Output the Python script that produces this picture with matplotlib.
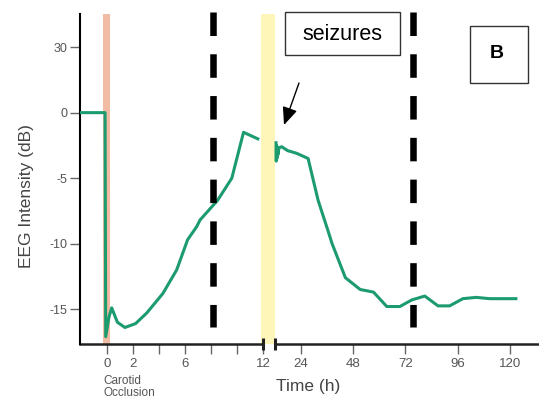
import numpy as np
import matplotlib.pyplot as plt
from matplotlib.patches import Rectangle

plt.rcParams['font.family'] = ['Liberation Sans', 'DejaVu Sans']

# --- data ---
# before the seizure window (hours, dB)
pre_t = [-2.08, -0.15, -0.1, 0.15, 0.36, 0.8, 1.38, 2.2, 3.05, 4.3, 5.36,
         6.2, 6.9, 7.15, 8.5, 9.6, 10.5, 11.6]
pre_db = [0, 0, -17.1, -15.6, -14.9, -16.0, -16.4, -16.1, -15.3, -13.8, -12.0,
          -9.7, -8.7, -8.2, -6.7, -5.0, -1.5, -2.0]
# after the seizure window
post_t = [12.7, 12.8, 12.9, 13.1, 13.3, 13.6, 14.0, 15.3, 18.0, 22.1, 27.4,
          32.0, 36.5, 38.4, 44.5, 51.3, 57.4, 63.5, 69.5, 74.9, 80.9, 87.0,
          92.3, 98.4, 104.5, 110.6, 122.7]
post_db = [-2.3, -3.7, -2.5, -3.5, -2.6, -3.2, -2.7, -2.6, -2.9, -3.1, -3.5,
           -6.7, -9.0, -10.0, -12.6, -13.5, -13.7, -14.8, -14.8, -14.3, -14.0,
           -14.75, -14.75, -14.2, -14.1, -14.2, -14.2]

occlusion_span = (-0.31, 0.23)
seizure_span = (11.85, 12.23)
dashed_t = [8.15, 75.5]

x_ticks = [0, 2, 4, 6, 8, 10, 12, 24, 48, 72, 96, 120]
x_labels = ['0', '2', '', '6', '', '', '12', '24', '48', '72', '96', '120']
y_ticks = [5, 0, -5, -10, -15]
y_labels = ['30', '0', '-5', '-10', '-15']


# broken time axis: 0-12 h stretched, 12-120 h compressed
def fwd(t):
    t = np.asarray(t, dtype=float)
    return np.where(t <= 12, t * 13.0, 167.5 + (t - 12) * 2.18)


def inv(u):
    u = np.asarray(u, dtype=float)
    return np.where(u <= 156, u / 13.0,
                    np.where(u >= 167.5, 12 + (u - 167.5) / 2.18, 12.0))


W, H = 539, 401
fig = plt.figure(figsize=(W / 100, H / 100), dpi=100)
ax = fig.add_axes([80 / W, 57 / H, 1 - 80 / W, 330 / H])
ax.set_xscale('function', functions=(fwd, inv))
xmin, xmax = -2.077, 133.3
ax.set_xlim(xmin, xmax)
ax.set_ylim(-17.66, 7.53)

green = '#1b9b6e'
ax.axvspan(*occlusion_span, color='#f2bba3', lw=0, zorder=0)
ax.axvspan(*seizure_span, color='#fdf6b8', lw=0, zorder=0)
ax.plot(pre_t, pre_db, color=green, lw=2.2, zorder=3)
ax.plot(post_t, post_db, color=green, lw=2.2, zorder=3)

trans = ax.get_xaxis_transform()
for xt in dashed_t:
    ax.plot([xt, xt], [1.006, 0.0515], transform=trans, clip_on=False,
            color='black', lw=4.7, dashes=(3.6, 2.8), dash_capstyle='butt', zorder=4)

# spines / broken x axis
for s in ['top', 'right', 'bottom']:
    ax.spines[s].set_visible(False)
ax.spines['left'].set_linewidth(1.5)
ax.plot([xmin, 12], [0, 0], transform=trans, clip_on=False, color='#222', lw=1.8)
ax.plot([12.0001, xmax], [0, 0], transform=trans, clip_on=False, color='#222', lw=1.8)
ax.plot([12, 12.0001], [0, 0], transform=trans, clip_on=False, ls='none',
        marker='|', ms=9, mew=2.2, color='#222')

ax.set_xticks(x_ticks)
ax.set_xticklabels(x_labels)
ax.set_yticks(y_ticks)
ax.set_yticklabels(y_labels)
ax.tick_params(axis='x', direction='out', length=7, width=1, color='#666',
               labelsize=9.5, labelcolor='#555', pad=3)
ax.tick_params(axis='y', direction='out', length=7, width=1, color='#666',
               labelsize=9, labelcolor='#555', pad=2)

fig.text(26 / W, 1 - 196 / H, 'EEG Intensity (dB)', rotation=90, ha='center',
         va='center', fontsize=12.5, color='#444')
fig.text(308 / W, 1 - 387 / H, 'Time (h)', ha='center', va='center',
         fontsize=12.5, color='#444')
fig.text(103 / W, 1 - 375 / H, 'Carotid\nOcclusion', ha='left', va='top',
         fontsize=8.5, color='#555', linespacing=0.95)

# annotation boxes
fig.add_artist(Rectangle((285 / W, 1 - 55 / H), 115 / W, 43 / H,
                         transform=fig.transFigure, fill=False, lw=1.0, ec='#333'))
fig.text(342.5 / W, 1 - 34 / H, 'seizures', ha='center', va='center', fontsize=15.5)
fig.add_artist(Rectangle((470 / W, 1 - 83 / H), 58 / W, 57 / H,
                         transform=fig.transFigure, fill=False, lw=1.0, ec='#333'))
fig.text(497 / W, 1 - 54 / H, 'B', ha='center', va='center', fontsize=14,
         fontweight='bold')
ax.annotate('', xy=(284 / W, 1 - 125 / H), xytext=(299 / W, 1 - 83 / H),
            xycoords='figure fraction', textcoords='figure fraction',
            arrowprops=dict(arrowstyle='-|>,head_length=0.4,head_width=0.17',
                            mutation_scale=27, color='black', lw=1,
                            shrinkA=0, shrinkB=0))

fig.savefig('out.png', dpi=100)
